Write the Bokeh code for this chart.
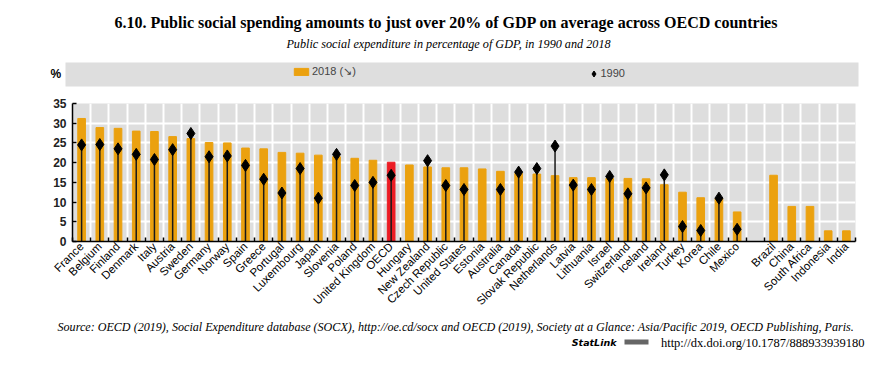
import math
from bokeh.plotting import figure
from bokeh.layouts import column
from bokeh.models import (Range1d, FixedTicker, ColumnDataSource, Label,
                          BoxAnnotation, Legend, LegendItem)
from bokeh.embed import file_html
from bokeh.resources import INLINE

# ---------------- data ----------------
oecd_countries = ["France", "Belgium", "Finland", "Denmark", "Italy", "Austria",
                  "Sweden", "Germany", "Norway", "Spain", "Greece", "Portugal",
                  "Luxembourg", "Japan", "Slovenia", "Poland", "United Kingdom",
                  "OECD", "Hungary", "New Zealand", "Czech Republic",
                  "United States", "Estonia", "Australia", "Canada",
                  "Slovak Republic", "Netherlands", "Latvia", "Lithuania",
                  "Israel", "Switzerland", "Iceland", "Ireland", "Turkey",
                  "Korea", "Chile", "Mexico"]
spend_2018 = [31.2, 28.9, 28.7, 28.0, 27.9, 26.6, 26.1, 25.1, 25.0, 23.7, 23.5,
              22.6, 22.4, 21.9, 21.5, 21.1, 20.6, 20.1, 19.4, 18.9, 18.7, 18.7,
              18.4, 17.8, 17.3, 17.1, 16.7, 16.2, 16.2, 16.0, 16.0, 15.9, 14.4,
              12.5, 11.1, 10.9, 7.5]
spend_1990 = [24.5, 24.6, 23.5, 22.1, 20.8, 23.3, 27.4, 21.5, 21.7, 19.3, 15.8,
              12.3, 18.5, 11.0, 22.1, 14.2, 15.0, 16.8, None, 20.5, 14.2, 13.2,
              None, 13.2, 17.6, 18.5, 24.2, 14.3, 13.2, 16.5, 12.1, 13.6, 16.9,
              3.8, 2.8, 11.0, 3.1]
partner_countries = ["Brazil", "China", "South Africa", "Indonesia", "India"]
partner_2018 = [16.8, 8.9, 8.9, 2.7, 2.7]
y_ticks = [0, 5, 10, 15, 20, 25, 30, 35]

ORANGE = "#EBA10F"
RED = "#EC1C24"
GREY = "#DEDEDE"
W = 874
H_HEAD, H_MAIN, H_FOOT = 95, 220, 42

# positions: OECD group, one empty slot, partner group
n1 = len(oecd_countries)
pos_oecd = list(range(n1))
pos_partner = [n1 + 1 + i for i in range(len(partner_countries))]
all_names = oecd_countries + partner_countries
all_pos = pos_oecd + pos_partner
all_2018 = spend_2018 + partner_2018
bar_colors = [RED if c == "OECD" else ORANGE for c in all_names]
n_slots = all_pos[-1] + 1

bars_src = ColumnDataSource(dict(x=all_pos, top=all_2018, color=bar_colors,
                                 name=all_names))
x90 = [p for p, v in zip(pos_oecd, spend_1990) if v is not None]
v90 = [v for v in spend_1990 if v is not None]
dots_src = ColumnDataSource(dict(x=x90, y=v90, y0=[0] * len(v90)))

# ---------------- main chart ----------------
p = figure(width=W, height=H_MAIN,
           x_range=Range1d(-0.5, n_slots - 0.5), y_range=Range1d(0, 35),
           output_backend="svg", toolbar_location=None,
           min_border_left=72, min_border_right=19,
           min_border_top=8, min_border_bottom=74)
p.background_fill_color = GREY
p.border_fill_color = "white"
p.outline_line_color = None

bars = p.vbar(x="x", top="top", width=0.42, color="color", source=bars_src)
p.segment(x0="x", y0="y0", x1="x", y1="y", line_color="#1a1a1a",
          line_width=1.5, source=dots_src)
dots = p.scatter(x="x", y="y", marker="diamond", size=12, color="black",
                 source=dots_src)

xa = p.xaxis[0]
xa.ticker = FixedTicker(ticks=all_pos,
                        minor_ticks=[i - 0.5 for i in range(n_slots + 1)])
xa.major_label_overrides = {pp: nm for pp, nm in zip(all_pos, all_names)}
xa.major_label_orientation = math.pi / 4
xa.major_tick_in = 0
xa.major_tick_out = 0
xa.minor_tick_in = 4
xa.minor_tick_out = 0
xa.minor_tick_line_color = "black"
xa.minor_tick_line_width = 1.5
xa.axis_line_color = "black"
xa.axis_line_width = 1.5
xa.major_label_text_font = "Liberation Sans"
xa.major_label_text_font_size = "11.5px"
xa.major_label_text_color = "black"
xa.major_label_standoff = 3

ya = p.yaxis[0]
ya.ticker = FixedTicker(ticks=y_ticks)
ya.minor_tick_line_color = None
ya.major_tick_in = 4
ya.major_tick_out = 0
ya.major_tick_line_width = 1.5
ya.axis_line_color = "black"
ya.axis_line_width = 1.5
ya.major_label_text_font = "Liberation Sans"
ya.major_label_text_font_size = "12px"
ya.major_label_text_font_style = "bold"
ya.major_label_text_color = "#222222"
ya.major_label_standoff = 6

p.xgrid.grid_line_color = None
p.xgrid.minor_grid_line_color = "white"
p.xgrid.minor_grid_line_width = 2
p.ygrid.grid_line_color = "white"
p.ygrid.grid_line_width = 2


def blank_fig(h):
    f = figure(width=W, height=h, x_range=Range1d(0, W), y_range=Range1d(0, h),
               output_backend="svg", toolbar_location=None,
               x_axis_type=None, y_axis_type=None, min_border=0,
               frame_align=False)
    f.outline_line_color = None
    f.background_fill_color = "white"
    f.border_fill_color = "white"
    f.xgrid.visible = False
    f.ygrid.visible = False
    return f


def add_text(f, txt, x, y, size, font="Liberation Sans", style="normal",
             align="left", color="black"):
    f.add_layout(Label(x=x, y=y, text=txt, text_font=font,
                       text_font_size=size, text_font_style=style,
                       text_align=align, text_baseline="middle",
                       text_color=color))


# ---------------- header ----------------
head = blank_fig(H_HEAD)
head.add_layout(BoxAnnotation(left=65, right=858, top=33, bottom=9,
                              fill_color=GREY, fill_alpha=1, line_color=None))
add_text(head, "6.10.  Public social spending amounts to just over 20% of GDP "
         "on average across OECD countries", 448, 73, "16px",
         font="Liberation Serif", style="bold", align="center")
add_text(head, "Public social expenditure in percentage of GDP, in 1990 and 2018",
         448, 52, "12.2px", font="Liberation Serif", style="italic",
         align="center")
add_text(head, "%", 50, 22, "12px", style="bold")

# legend proxies share the chart's data but are not drawn themselves
leg_bar = head.vbar(x="x", top="top", width=0.42, color=ORANGE,
                    source=bars_src, visible=False)
leg_dot = head.scatter(x="x", y="y", marker="diamond", size=10, color="black",
                       source=dots_src, visible=False)
common = dict(orientation="horizontal", padding=0, margin=0,
              background_fill_alpha=0, border_line_alpha=0,
              label_text_font="Liberation Sans", label_text_font_size="11px",
              label_height=12)
head.add_layout(Legend(items=[LegendItem(label="2018 (↘)", renderers=[leg_bar],
                                         index=0)],
                       location=(292, 17.5), glyph_width=18, glyph_height=9,
                       label_standoff=2, **common))
head.add_layout(Legend(items=[LegendItem(label="1990", renderers=[leg_dot],
                                         index=0)],
                       location=(585.5, 14.5), glyph_width=15, glyph_height=15,
                       label_standoff=0, **common))

# ---------------- footer ----------------
foot = blank_fig(H_FOOT)
add_text(foot, "Source:  OECD (2019), Social Expenditure database (SOCX), "
         "http://oe.cd/socx and OECD (2019), Society at a Glance: Asia/Pacific "
         "2019, OECD Publishing, Paris.", 57, 31, "12.1px",
         font="Liberation Serif", style="italic")
add_text(foot, "http://dx.doi.org/10.1787/888933939180", 864, 15, "12.5px",
         font="Liberation Serif", align="right")
add_text(foot, "StatLink", 616, 15, "9.5px", font="DejaVu Sans",
         style="bold italic", align="right")
foot.add_layout(BoxAnnotation(left=624, right=648, top=18, bottom=13,
                              fill_color="#666666", fill_alpha=1,
                              line_color=None))

layout = column(head, p, foot, spacing=0)
open("out.html", "w").write(file_html(layout, INLINE))
